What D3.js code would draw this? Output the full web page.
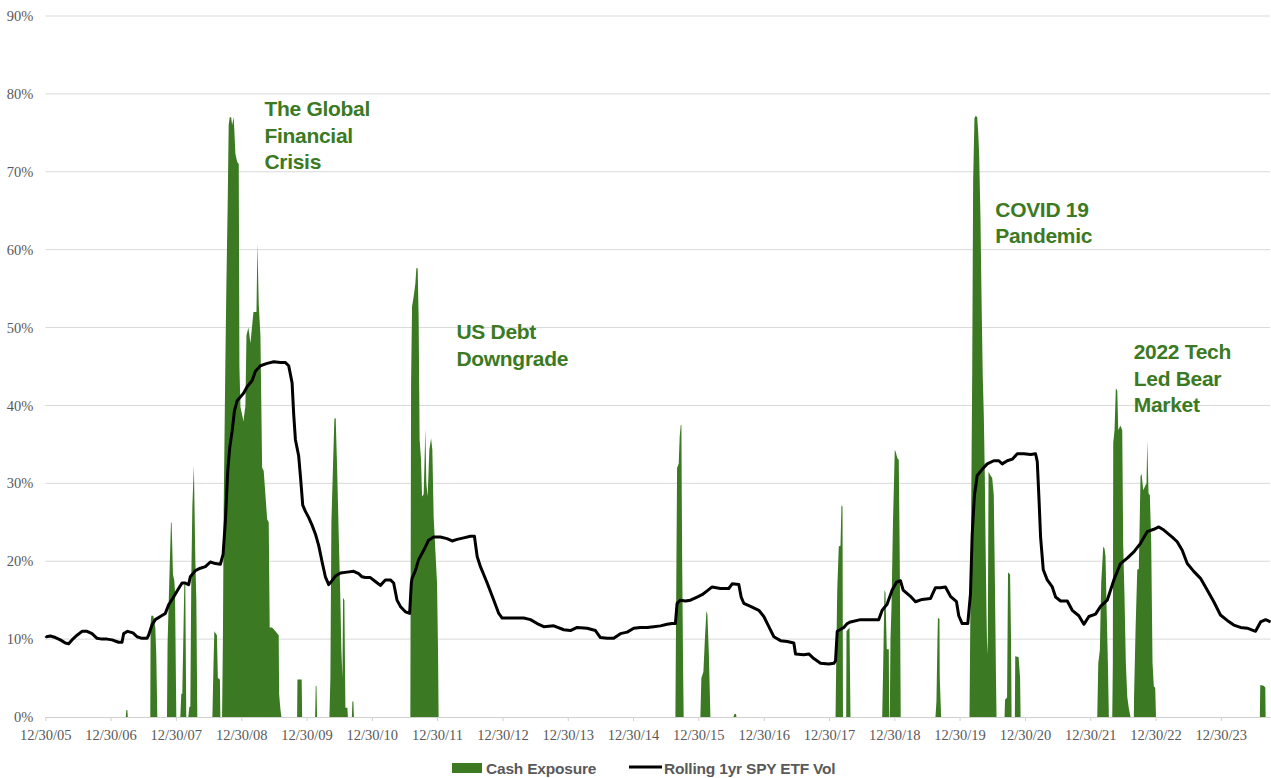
<!DOCTYPE html>
<html>
<head>
<meta charset="utf-8">
<script src="https://cdn.jsdelivr.net/npm/d3@7"></script>
<style>
  body { margin: 0; background: #fff; }
</style>
</head>
<body>
<div id="chart"></div>
<script>
// cash exposure (percent), dates as decimal years
var cashYears = [
  2006.000,
  2007.228, 2007.236, 2007.251, 2007.259,
  2007.603, 2007.608, 2007.619, 2007.649, 2007.680, 2007.695, 2007.711,
  2007.859, 2007.868, 2007.899, 2007.920, 2007.930, 2007.951, 2007.971, 2007.982, 2008.002,
  2008.063, 2008.078, 2008.093, 2008.109, 2008.124, 2008.139, 2008.154,
  2008.185, 2008.201, 2008.216, 2008.231, 2008.247, 2008.270, 2008.293, 2008.308, 2008.323,
  2008.553, 2008.568, 2008.583, 2008.622, 2008.637, 2008.668, 2008.675,
  2008.701, 2008.714, 2008.726, 2008.752, 2008.767, 2008.787, 2008.802, 2008.818, 2008.839, 2008.855,
  2008.879, 2008.905, 2008.931, 2008.956, 2008.966, 2008.982, 2009.028, 2009.058, 2009.074, 2009.104,
  2009.135, 2009.181, 2009.227, 2009.242, 2009.262, 2009.288, 2009.314, 2009.338, 2009.391, 2009.415,
  2009.430, 2009.467, 2009.518, 2009.568, 2009.574, 2009.594, 2009.610,
  2009.850, 2009.855, 2009.920, 2009.927,
  2010.126, 2010.135, 2010.146, 2010.156,
  2010.345, 2010.360, 2010.375, 2010.401, 2010.421, 2010.441, 2010.463, 2010.487, 2010.513, 2010.528,
  2010.544, 2010.554, 2010.574, 2010.590, 2010.620, 2010.628,
  2010.689, 2010.697, 2010.712, 2010.720,
  2011.585, 2011.596, 2011.611, 2011.636, 2011.662, 2011.677, 2011.697, 2011.712, 2011.727, 2011.749,
  2011.764, 2011.789, 2011.815, 2011.830, 2011.850, 2011.876, 2011.902, 2011.922, 2011.942, 2011.968,
  2011.994, 2012.009, 2012.018,
  2015.643, 2015.659, 2015.669, 2015.694, 2015.709, 2015.725, 2015.735, 2015.746, 2015.761, 2015.770,
  2016.026, 2016.041, 2016.072, 2016.095, 2016.118, 2016.133, 2016.156, 2016.179,
  2016.531, 2016.547, 2016.570, 2016.577,
  2018.094, 2018.109, 2018.120, 2018.144, 2018.170, 2018.185, 2018.201, 2018.208,
  2018.257, 2018.262, 2018.308, 2018.323,
  2018.809, 2018.824, 2018.844, 2018.859, 2018.879, 2018.910, 2018.916, 2018.925, 2018.936, 2018.951,
  2018.974, 2019.002, 2019.018, 2019.039, 2019.063, 2019.078, 2019.093,
  2019.625, 2019.640, 2019.656, 2019.663, 2019.686, 2019.691, 2019.712,
  2020.146, 2020.156, 2020.166, 2020.187, 2020.202, 2020.222, 2020.242, 2020.264, 2020.279, 2020.294,
  2020.314, 2020.330, 2020.349, 2020.365, 2020.380, 2020.390, 2020.406, 2020.417, 2020.426, 2020.437,
  2020.467, 2020.493, 2020.517, 2020.533, 2020.551, 2020.559,
  2020.682, 2020.689, 2020.720, 2020.735, 2020.766, 2020.781, 2020.789,
  2020.839, 2020.845, 2020.896, 2020.919, 2020.927,
  2022.101, 2022.117, 2022.141, 2022.162, 2022.193, 2022.213, 2022.228, 2022.244, 2022.264, 2022.279,
  2022.331, 2022.340, 2022.346, 2022.366, 2022.386, 2022.408, 2022.423, 2022.443, 2022.458, 2022.484,
  2022.499, 2022.519, 2022.539, 2022.561, 2022.585, 2022.611,
  2022.662, 2022.665, 2022.688, 2022.714, 2022.738, 2022.764, 2022.780, 2022.806, 2022.826, 2022.856,
  2022.867, 2022.887, 2022.907, 2022.928, 2022.948, 2022.968, 2022.989, 2023.001,
  2024.591, 2024.597, 2024.648, 2024.674, 2024.679,
  2024.755
];
var cashValues = [
  0,
  0, 0.9, 0.9, 0,
  0, 12, 13, 13, 11.5, 8, 0,
  0, 9.4, 18.9, 25, 24.9, 18.3, 17.5, 16, 0,
  0, 3, 3, 10, 17, 17, 0,
  0, 1.3, 1.3, 18, 27, 32.3, 20, 15, 0,
  0, 6, 11, 10.5, 5, 4.8, 0,
  0, 10, 27, 46, 55.6, 66, 76, 77, 77, 76,
  77, 72.3, 71.3, 71, 45, 39.8, 38, 40, 49, 50,
  48, 52, 52, 60.8, 53, 49, 32, 31.6, 25.4, 25,
  11.5, 11.5, 11, 10.5, 3, 1, 0,
  0, 4.8, 4.8, 0,
  0, 4, 4, 0,
  0, 5, 25, 32.6, 38.3, 38.4, 32, 23.6, 15, 8.6,
  5, 15.3, 15, 1.2, 1.2, 0,
  0, 2, 2, 0,
  0, 42.9, 52.7, 54, 55.7, 57.6, 57.6, 51.4, 35.6, 33,
  28.3, 28.6, 37, 30, 28.3, 34.3, 35.8, 34.3, 25.7, 21.4,
  17.2, 8.6, 0,
  0, 20, 32, 32.5, 36, 37.5, 37.5, 21, 6.5, 0,
  0, 5, 5.8, 10, 13.6, 13.2, 8, 0,
  0, 0.4, 0.4, 0,
  0, 10, 16.3, 21.9, 22, 27.2, 27, 0,
  0, 11, 11.5, 0,
  0, 6.5, 16.3, 16, 8.7, 8.7, 0, 0, 10, 14,
  25, 34.3, 34, 33.3, 33, 20, 0,
  0, 2, 10, 12.7, 12.6, 5, 0,
  0, 10, 20, 43.7, 69, 76.9, 77.2, 77, 75.1, 72.1,
  64, 53.8, 43.7, 38.6, 31, 23.4, 13.2, 8, 10, 31.5,
  31, 30.7, 28.5, 18.3, 5, 0,
  0, 2.2, 2.5, 18.6, 18.3, 10, 0,
  0, 7.8, 7.7, 5, 0,
  0, 6.9, 8.6, 17.2, 21.9, 21.6, 20.6, 14.2, 7, 0,
  0, 6.9, 35.2, 36.8, 42.2, 41.9, 36.8, 37.2, 37.4, 36.8,
  21.9, 15.4, 7, 2.6, 1.1, 0,
  0, 2.6, 11.2, 18.9, 19, 30.9, 31.2, 29.1, 29.5, 30,
  35.5, 28.7, 28.5, 22.3, 7, 3.9, 3.8, 0,
  0, 4.1, 4.0, 3.8, 0,
  0
];

// rolling 1yr SPY vol (percent)
var volYears = [
  2006.000, 2006.011, 2006.072, 2006.149, 2006.225, 2006.302, 2006.352, 2006.404, 2006.481, 2006.557,
  2006.634, 2006.711, 2006.787, 2006.864, 2006.940, 2007.017, 2007.118, 2007.170, 2007.195, 2007.256,
  2007.338, 2007.400, 2007.476, 2007.553, 2007.577, 2007.629, 2007.680, 2007.757, 2007.833, 2007.884,
  2007.960, 2008.037, 2008.089, 2008.139, 2008.190, 2008.216, 2008.293, 2008.369, 2008.446, 2008.522,
  2008.599, 2008.675, 2008.717, 2008.752, 2008.787, 2008.818, 2008.855, 2008.890, 2008.931, 2008.982,
  2009.032, 2009.084, 2009.161, 2009.211, 2009.288, 2009.391, 2009.492, 2009.594, 2009.671, 2009.721,
  2009.773, 2009.798, 2009.824, 2009.874, 2009.901, 2009.936, 2009.977, 2010.028, 2010.080, 2010.130,
  2010.181, 2010.233, 2010.283, 2010.334, 2010.386, 2010.437, 2010.513, 2010.616, 2010.717, 2010.793,
  2010.845, 2010.896, 2010.972, 2011.049, 2011.126, 2011.202, 2011.279, 2011.329, 2011.381, 2011.432,
  2011.509, 2011.574, 2011.600, 2011.611, 2011.662, 2011.712, 2011.789, 2011.865, 2011.942, 2012.045,
  2012.147, 2012.224, 2012.300, 2012.401, 2012.504, 2012.565, 2012.607, 2012.657, 2012.760, 2012.861,
  2012.937, 2012.989, 2013.167, 2013.320, 2013.423, 2013.525, 2013.626, 2013.780, 2013.933, 2014.035,
  2014.138, 2014.291, 2014.418, 2014.495, 2014.597, 2014.698, 2014.801, 2014.904, 2015.005, 2015.107,
  2015.210, 2015.311, 2015.414, 2015.516, 2015.593, 2015.643, 2015.669, 2015.720, 2015.796, 2015.873,
  2015.976, 2016.052, 2016.129, 2016.205, 2016.332, 2016.459, 2016.512, 2016.613, 2016.649, 2016.689,
  2016.792, 2016.919, 2016.995, 2017.072, 2017.149, 2017.251, 2017.354, 2017.455, 2017.481, 2017.608,
  2017.685, 2017.761, 2017.864, 2017.991, 2018.068, 2018.094, 2018.120, 2018.221, 2018.273, 2018.323,
  2018.476, 2018.629, 2018.756, 2018.809, 2018.885, 2018.962, 2019.028, 2019.089, 2019.130, 2019.242,
  2019.319, 2019.421, 2019.548, 2019.625, 2019.702, 2019.778, 2019.855, 2019.947, 2019.982, 2020.034,
  2020.120, 2020.161, 2020.187, 2020.222, 2020.264, 2020.340, 2020.417, 2020.517, 2020.594, 2020.646,
  2020.723, 2020.800, 2020.876, 2020.977, 2021.080, 2021.156, 2021.182, 2021.207, 2021.233, 2021.274,
  2021.335, 2021.412, 2021.463, 2021.539, 2021.642, 2021.718, 2021.819, 2021.896, 2021.973, 2022.075,
  2022.152, 2022.254, 2022.356, 2022.458, 2022.561, 2022.662, 2022.764, 2022.867, 2022.968, 2023.045,
  2023.121, 2023.250, 2023.326, 2023.403, 2023.480, 2023.580, 2023.683, 2023.786, 2023.887, 2023.989,
  2024.092, 2024.193, 2024.296, 2024.398, 2024.525, 2024.602, 2024.679, 2024.755
];
var volValues = [
  10.4, 10.3, 10.4, 10.2, 9.9, 9.5, 9.4, 9.9, 10.5, 11.0,
  11.0, 10.7, 10.1, 10.0, 10.0, 9.9, 9.6, 9.6, 10.7, 11.0,
  10.8, 10.3, 10.1, 10.1, 10.5, 11.8, 12.5, 12.9, 13.3, 14.4,
  15.4, 16.5, 17.2, 17.2, 17.0, 18.0, 18.8, 19.1, 19.3, 19.9,
  19.7, 19.6, 20.9, 25.2, 31.5, 34.6, 36.7, 39.3, 40.6, 41.1,
  41.6, 42.4, 43.2, 44.4, 45.1, 45.4, 45.6, 45.5, 45.5, 45.1,
  42.9, 38.8, 35.6, 33.5, 30.9, 27.2, 26.4, 25.6, 24.6, 23.5,
  22.0, 19.9, 18.0, 17.0, 17.5, 18.1, 18.5, 18.6, 18.7, 18.4,
  18.0, 17.9, 17.9, 17.4, 16.9, 17.6, 17.6, 17.2, 15.0, 14.2,
  13.5, 13.3, 17.2, 17.8, 18.8, 20.2, 21.4, 22.7, 23.1, 23.1,
  22.9, 22.6, 22.8, 23.0, 23.2, 23.2, 20.6, 19.3, 17.2, 15.0,
  13.3, 12.7, 12.7, 12.7, 12.5, 12.0, 11.6, 11.7, 11.2, 11.1,
  11.5, 11.4, 11.1, 10.2, 10.1, 10.1, 10.7, 10.9, 11.4, 11.5,
  11.5, 11.6, 11.7, 11.9, 12.0, 12.0, 14.6, 15.0, 14.9, 15.0,
  15.4, 15.7, 16.2, 16.7, 16.5, 16.5, 17.1, 17.0, 15.4, 14.6,
  14.2, 13.7, 12.9, 11.6, 10.3, 9.8, 9.7, 9.5, 8.1, 8.0,
  8.1, 7.5, 6.9, 6.8, 6.9, 7.2, 11.0, 11.5, 12.0, 12.2,
  12.5, 12.5, 12.5, 13.7, 14.5, 16.3, 17.3, 17.5, 16.3, 15.5,
  14.8, 15.1, 15.2, 16.6, 16.6, 16.7, 15.5, 14.8, 13.0, 12.0,
  12.0, 15.8, 23.4, 28.5, 31.0, 31.8, 32.5, 32.9, 32.9, 32.5,
  32.9, 33.1, 33.8, 33.8, 33.7, 33.8, 32.8, 28.3, 23.1, 18.9,
  17.6, 16.7, 15.4, 14.9, 14.9, 13.7, 13.0, 11.9, 12.9, 13.2,
  14.2, 15.0, 17.6, 19.7, 20.4, 21.2, 22.3, 23.8, 24.1, 24.4,
  24.0, 23.1, 22.5, 21.4, 19.7, 18.7, 17.8, 16.3, 14.8, 13.1,
  12.4, 11.8, 11.5, 11.4, 11.0, 12.2, 12.5, 12.2
];

var tickYears = d3.range(2005, 2024); // 12/30 of each year
var yTicks = [0, 0.1, 0.2, 0.3, 0.4, 0.5, 0.6, 0.7, 0.8, 0.9];

var annotations = [
  { lines: ["The Global", "Financial", "Crisis"], year: 2009.35, value: 0.771 },
  { lines: ["US Debt", "Downgrade"], year: 2012.29, value: 0.485 },
  { lines: ["COVID 19", "Pandemic"], year: 2020.54, value: 0.642 },
  { lines: ["2022 Tech", "Led Bear", "Market"], year: 2022.66, value: 0.459 }
];

var legendItems = ["Cash Exposure", "Rolling 1yr SPY ETF Vol"];

var width = 1271, height = 778;
var green = "#3b7a22";
var gray = "#595959";
var serif = "'Liberation Serif', 'Times New Roman', serif";
var sans = "'Liberation Sans', Arial, sans-serif";

function yearToDate(y) {
  var yr = Math.floor(y);
  var start = new Date(yr, 0, 1), end = new Date(yr + 1, 0, 1);
  return new Date(+start + (y - yr) * (end - start));
}

var cashData = cashYears.map(function (y, i) {
  return { date: yearToDate(y), value: cashValues[i] / 100 };
});
var volData = volYears.map(function (y, i) {
  return { date: yearToDate(y), value: volValues[i] / 100 };
});

var margin = { left: 45.3, right: 1270, top: 16, bottom: 717 };

var x = d3.scaleTime()
  .domain([new Date(2005, 11, 30), new Date(2024, 8, 30)])
  .range([margin.left, margin.right]);

var y = d3.scaleLinear()
  .domain([0, 0.9])
  .range([margin.bottom, margin.top]);

var svg = d3.select("#chart")
  .append("svg")
  .attr("width", width)
  .attr("height", height)
  .style("background", "#fff");

// gridlines
svg.append("g")
  .selectAll("line")
  .data(yTicks.slice(1))
  .enter()
  .append("line")
  .attr("x1", margin.left)
  .attr("x2", margin.right)
  .attr("y1", function (d) { return y(d); })
  .attr("y2", function (d) { return y(d); })
  .attr("stroke", "#d9d9d9")
  .attr("stroke-width", 1);

// cash exposure area
var area = d3.area()
  .x(function (d) { return x(d.date); })
  .y0(y(0))
  .y1(function (d) { return y(d.value); });

svg.append("path")
  .datum(cashData)
  .attr("d", area)
  .attr("fill", green);

// x axis
var xAxis = d3.axisBottom(x)
  .tickValues(tickYears.map(function (yr) { return new Date(yr, 11, 30); }))
  .tickFormat(d3.timeFormat("%m/%d/%y"))
  .tickSizeInner(4)
  .tickSizeOuter(0)
  .tickPadding(9);

var gx = svg.append("g")
  .attr("transform", "translate(0," + y(0) + ")")
  .call(xAxis);
gx.select(".domain").attr("stroke", "#d0d0d0").attr("stroke-width", 1.2);
gx.selectAll(".tick line").attr("stroke", "#d0d0d0");
gx.selectAll(".tick text")
  .attr("fill", gray)
  .style("font-family", serif)
  .style("font-size", "14.5px");

// y axis labels
var yAxis = d3.axisLeft(y)
  .tickValues(yTicks)
  .tickFormat(d3.format(".0%"))
  .tickSize(0)
  .tickPadding(12);

var gy = svg.append("g")
  .attr("transform", "translate(" + margin.left + ",0)")
  .call(yAxis);
gy.select(".domain").remove();
gy.selectAll(".tick text")
  .attr("fill", gray)
  .style("font-family", serif)
  .style("font-size", "14.5px");

// vol line
var line = d3.line()
  .x(function (d) { return x(d.date); })
  .y(function (d) { return y(d.value); });

svg.append("path")
  .datum(volData)
  .attr("d", line)
  .attr("fill", "none")
  .attr("stroke", "#000")
  .attr("stroke-width", 3)
  .attr("stroke-linejoin", "round");

// annotations
annotations.forEach(function (a) {
  var t = svg.append("text")
    .attr("x", x(yearToDate(a.year)))
    .attr("y", y(a.value))
    .attr("fill", green)
    .style("font-family", sans)
    .style("font-weight", "bold")
    .style("font-size", "21px")
    .style("letter-spacing", "-0.3px");
  a.lines.forEach(function (l, i) {
    t.append("tspan")
      .attr("x", x(yearToDate(a.year)))
      .attr("dy", i === 0 ? 0 : 26.5)
      .text(l);
  });
});

// legend
var legend = svg.append("g");
legend.append("rect")
  .attr("x", 452).attr("y", 763)
  .attr("width", 30).attr("height", 10)
  .attr("fill", green);
legend.append("text")
  .attr("x", 486).attr("y", 773.5)
  .attr("fill", gray)
  .style("font-family", sans)
  .style("font-weight", "bold")
  .style("font-size", "15.5px")
  .style("letter-spacing", "-0.2px")
  .text(legendItems[0]);
legend.append("line")
  .attr("x1", 629).attr("x2", 662)
  .attr("y1", 767).attr("y2", 767)
  .attr("stroke", "#000").attr("stroke-width", 3);
legend.append("text")
  .attr("x", 664).attr("y", 773.5)
  .attr("fill", gray)
  .style("font-family", sans)
  .style("font-weight", "bold")
  .style("font-size", "15.5px")
  .style("letter-spacing", "-0.2px")
  .text(legendItems[1]);
</script>
</body>
</html>
